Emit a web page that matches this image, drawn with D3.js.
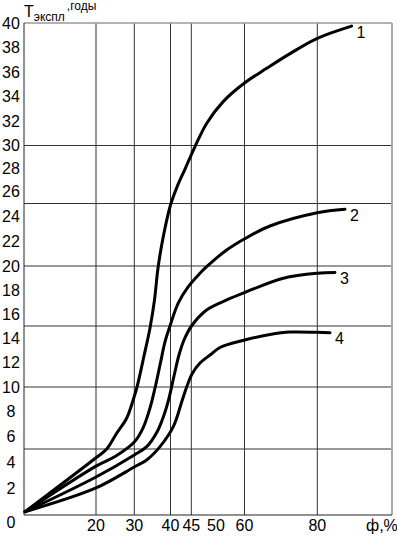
<!DOCTYPE html>
<html>
<head>
<meta charset="utf-8">
<script src="https://cdn.jsdelivr.net/npm/d3@7"></script>
<style>
    html, body { margin: 0; padding: 0; background: #fff; }
    svg { display: block; font-family: "Liberation Sans", Arial, sans-serif; }
</style>
</head>
<body>
<svg id="chart" width="397" height="536"></svg>
<script>
// Grid / tick values
const xGrid = [20, 30, 40, 45, 60, 80];
const xTickLabels = [20, 30, 40, 45, 50, 60, 80];
const yGrid = [5, 10, 15, 20, 25, 30];
const yTickLabels = [0, 2, 4, 6, 8, 10, 12, 14, 16, 18, 20, 22, 24, 26, 28, 30, 32, 34, 36, 38, 40];

// Curves: ф (%) and Т экспл (годы)
const curve1X = [0.3, 20, 22.8, 25.4, 28.0, 29.7, 30.75, 32.68, 34.34, 35.58, 36.55, 37.93, 40, 41.56, 43.49, 45.75, 48.1, 52.6, 60, 66.1, 72.5, 80, 89.4];
const curve1Y = [0.25, 4.34, 5.0, 6.27, 7.48, 8.95, 10.0, 12.54, 14.84, 17.17, 19.83, 22.24, 24.88, 26.42, 27.97, 29.91, 31.8, 33.6, 35.1, 36.3, 37.5, 38.75, 39.75];

const curve2X = [0.3, 20, 25.2, 30, 32.4, 34.34, 35.72, 37.1, 38.48, 39.86, 41.88, 44.28, 46.76, 48.1, 53.75, 60.06, 67, 80, 87.6];
const curve2Y = [0.25, 3.7, 4.47, 5.56, 6.69, 8.31, 9.92, 11.8, 13.69, 15.0, 16.92, 18.28, 19.39, 19.94, 21.28, 22.18, 23.2, 24.26, 24.54];

const curve3X = [0.3, 20, 30, 33.43, 36.27, 38.2, 39.59, 40.84, 42.04, 43.25, 45.04, 48.1, 53.75, 60.05, 70.66, 80, 84.86];
const curve3Y = [0.25, 2.88, 4.55, 5.19, 6.37, 7.74, 9.11, 10.9, 12.62, 13.85, 15.0, 16.33, 17.17, 17.79, 18.98, 19.4, 19.46];

const curve4X = [0.3, 20, 30, 33.43, 37.1, 40.67, 42.76, 43.97, 45.14, 46.76, 48.79, 51.4, 60.05, 67, 72.5, 80, 83.5];
const curve4Y = [0.25, 2.05, 3.64, 4.17, 5.19, 6.8, 8.87, 10.08, 11.07, 11.97, 12.62, 13.24, 13.85, 14.3, 14.5, 14.48, 14.45];

const curveNames = ['1', '2', '3', '4'];

const svg = d3.select('#chart');

// The printed grid is not evenly spaced, so the scales are piecewise
const x = d3.scaleLinear()
    .domain([0, 20, 30, 40, 45, 50, 60, 80])
    .range([24, 96, 134.3, 170.5, 191.3, 216, 244.5, 317.3]);

const y = d3.scaleLinear()
    .domain([0, 5, 10, 15, 20, 25, 30, 40])
    .range([515, 449, 387, 326, 266, 203.5, 145.5, 23]);

const xRight = 392;

// Grid
svg.append('g')
    .selectAll('line')
    .data(xGrid)
    .join('line')
    .attr('x1', d => x(d)).attr('x2', d => x(d))
    .attr('y1', y(40)).attr('y2', y(0))
    .attr('stroke', '#333')
    .attr('stroke-width', 1);

svg.append('g')
    .selectAll('line')
    .data(yGrid)
    .join('line')
    .attr('x1', x(0)).attr('x2', xRight)
    .attr('y1', d => y(d)).attr('y2', d => y(d))
    .attr('stroke', '#333')
    .attr('stroke-width', 1);

// Frame
svg.append('line')
    .attr('x1', x(0)).attr('x2', xRight)
    .attr('y1', y(40)).attr('y2', y(40))
    .attr('stroke', '#999').attr('stroke-width', 1.5);
svg.append('line')
    .attr('x1', xRight).attr('x2', xRight)
    .attr('y1', y(40)).attr('y2', y(0))
    .attr('stroke', '#aaa').attr('stroke-width', 2);
svg.append('line')
    .attr('x1', x(0)).attr('x2', x(0))
    .attr('y1', y(40)).attr('y2', y(0))
    .attr('stroke', '#222').attr('stroke-width', 1);
svg.append('line')
    .attr('x1', x(0)).attr('x2', xRight)
    .attr('y1', y(0)).attr('y2', y(0))
    .attr('stroke', '#222').attr('stroke-width', 1);

// Tick labels
svg.append('g')
    .selectAll('text')
    .data(yTickLabels)
    .join('text')
    .attr('x', 11)
    .attr('y', d => y(d) + (d === 0 ? 7 : 0))
    .attr('text-anchor', 'middle')
    .attr('dominant-baseline', 'central')
    .attr('font-size', 16)
    .text(d => d);

svg.append('g')
    .selectAll('text')
    .data(xTickLabels)
    .join('text')
    .attr('x', d => x(d))
    .attr('y', 531)
    .attr('text-anchor', 'middle')
    .attr('font-size', 16)
    .text(d => d);

// Axis titles
svg.append('text')
    .attr('x', 366)
    .attr('y', 531)
    .attr('font-size', 16)
    .text('ф,%');

const title = svg.append('text')
    .attr('x', 24)
    .attr('y', 17)
    .attr('font-size', 16);
title.append('tspan').text('Т');
title.append('tspan').attr('font-size', 12).attr('dy', 4).text('экспл');
title.append('tspan').attr('font-size', 12).attr('dx', 2).attr('dy', -11).text(',годы');

// Curves
const series = [
    d3.zip(curve1X, curve1Y),
    d3.zip(curve2X, curve2Y),
    d3.zip(curve3X, curve3Y),
    d3.zip(curve4X, curve4Y)
];

const line = d3.line()
    .x(d => x(d[0]))
    .y(d => y(d[1]))
    .curve(d3.curveCatmullRom.alpha(0.5));

svg.append('g')
    .selectAll('path')
    .data(series)
    .join('path')
    .attr('d', line)
    .attr('fill', 'none')
    .attr('stroke', '#000')
    .attr('stroke-width', 3)
    .attr('stroke-linecap', 'round');

svg.append('g')
    .selectAll('text')
    .data(series)
    .join('text')
    .attr('x', d => x(d[d.length - 1][0]) + 5)
    .attr('y', d => y(d[d.length - 1][1]) + 6)
    .attr('dominant-baseline', 'central')
    .attr('font-size', 16)
    .text((d, i) => curveNames[i]);
</script>
</body>
</html>
